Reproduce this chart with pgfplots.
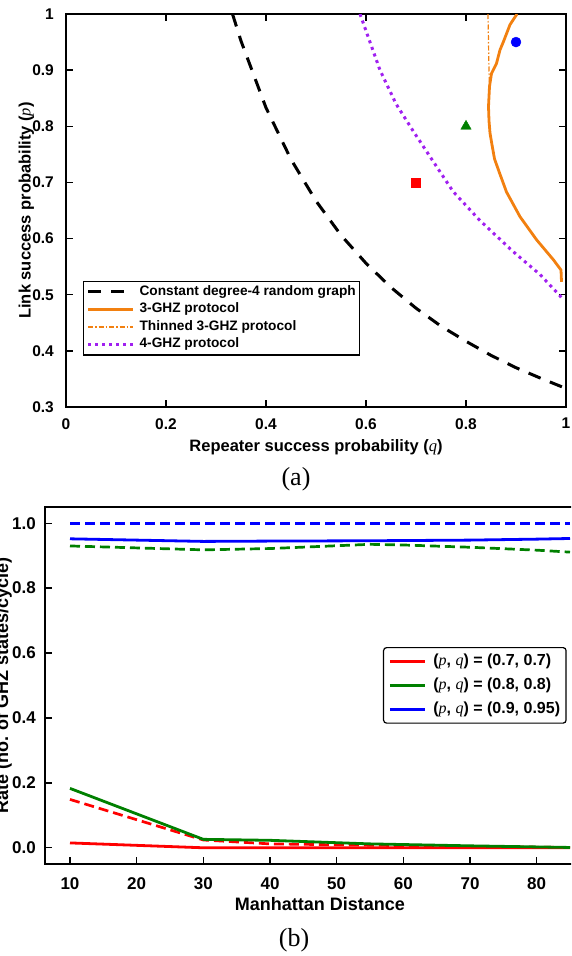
\documentclass[border=0pt]{standalone}
\usepackage{fontspec}
\setmainfont{Liberation Sans}
\newfontfamily\tms{Liberation Serif}
\usepackage{pgfplots}
\pgfplotsset{compat=1.18}
\definecolor{gorange}{RGB}{242,128,16}
\definecolor{gpurple}{RGB}{160,32,240}
\definecolor{gblue}{RGB}{0,0,255}
\definecolor{ggreen}{RGB}{0,128,0}
\definecolor{gred}{RGB}{255,0,0}
\newcommand{\ip}{{\tms\mdseries\itshape p}}
\newcommand{\iq}{{\tms\mdseries\itshape q}}

\begin{document}
\begin{tikzpicture}
\path[use as bounding box] (0pt,0pt) rectangle (571pt,-956pt);
\clip (0pt,0pt) rectangle (571pt,-956pt);

% (a) threshold curves
\begin{axis}[
  at={(66pt,-14pt)}, anchor=north west,
  scale only axis, width=500pt, height=393pt,
  xmin=0, xmax=1, ymin=0.3, ymax=1,
  xtick={0,0.2,0.4,0.6,0.8,1},
  ytick={0.3,0.4,0.5,0.6,0.7,0.8,0.9,1},
  tick align=inside, major tick length=7pt,
  every tick/.style={black, line width=1.4pt},
  axis line style={line width=2pt},
  /pgf/number format/assume math mode=true,
  tick label style={font=\fontsize{15.5}{17}\selectfont\bfseries},
  yticklabel style={inner sep=0pt, xshift=-12pt},
  xticklabel style={inner sep=0pt, yshift=-11pt},
  xlabel={Repeater success probability (\iq)},
  ylabel={Link success probability (\ip)},
  label style={font=\fontsize{16.5}{19}\selectfont\bfseries},
  xlabel style={at={(axis description cs:0.5,-0.112)}, anchor=base},
  ylabel style={at={(axis description cs:-0.071,0.5)}, anchor=base},
  legend style={at={(axis description cs:0.034,0.321)}, anchor=north west,
    draw=black, line width=1.2pt, inner sep=3pt, row sep=2.5pt, column sep=4pt,
    font=\fontsize{13.7}{15}\selectfont\bfseries,
    nodes={inner sep=1pt, text height=10pt, text depth=3pt}},
  legend cell align=left,
  legend image code/.code={\draw[#1] (0pt,0pt) -- (45pt,0pt);},
]
\addplot[black, line width=3pt, dash pattern=on 13pt off 10pt] coordinates {
  (0.333,1.0) (0.35,0.952) (0.4,0.833) (0.45,0.741) (0.5,0.667) (0.55,0.606)
  (0.6,0.556) (0.65,0.513) (0.7,0.476) (0.75,0.444) (0.8,0.417) (0.85,0.392)
  (0.9,0.370) (0.95,0.351) (1.0,0.333)};
\addplot[gorange, line width=2.8pt] coordinates {
  (0.902,1.0) (0.888,0.981) (0.875,0.951) (0.868,0.936) (0.861,0.912) (0.851,0.894)
  (0.847,0.871) (0.845,0.835) (0.846,0.81) (0.848,0.788) (0.851,0.772) (0.857,0.742)
  (0.867,0.717) (0.881,0.683) (0.908,0.639) (0.941,0.598) (0.975,0.562) (0.990,0.544)
  (0.991,0.523)};
\addplot[gorange, line width=1.2pt, dash pattern=on 5pt off 2pt on 1.5pt off 2pt] coordinates {
  (0.844,1.0) (0.845,0.95) (0.846,0.90) (0.847,0.865)};
\addplot[gpurple, line width=3pt, dash pattern=on 3pt off 4pt] coordinates {
  (0.588,1.0) (0.61,0.945) (0.628,0.90) (0.66,0.840) (0.694,0.792) (0.728,0.746)
  (0.774,0.684) (0.828,0.632) (0.894,0.577) (0.948,0.536) (0.988,0.498) (0.995,0.49)};
\legend{Constant degree-4 random graph, 3-GHZ protocol, Thinned 3-GHZ protocol, 4-GHZ protocol}
\addplot[only marks, mark=square*, mark size=4.5pt, gred, forget plot] coordinates {(0.7,0.7)};
\addplot[only marks, mark=triangle*, mark size=6pt, ggreen, forget plot] coordinates {(0.8,0.8)};
\addplot[only marks, mark=*, mark size=5pt, gblue, forget plot] coordinates {(0.9,0.95)};
\end{axis}

\node[font=\tms\fontsize{26}{30}\selectfont] at (296pt,-479pt) {(a)};

% (b) rates
\begin{axis}[
  at={(45pt,-507pt)}, anchor=north west,
  scale only axis, width=550pt, height=357pt,
  xmin=6.25, xmax=88.75, ymin=-0.05, ymax=1.05,
  xtick={10,20,30,40,50,60,70,80},
  ytick={0,0.2,0.4,0.6,0.8,1},
  xtick pos=left, ytick pos=left,
  tick align=inside, major tick length=7pt,
  every tick/.style={black, line width=1.4pt},
  axis line style={line width=2pt},
  /pgf/number format/assume math mode=true,
  tick label style={font=\fontsize{17}{19}\selectfont\bfseries},
  yticklabel style={inner sep=0pt, xshift=-9pt, /pgf/number format/.cd, fixed, fixed zerofill, precision=1},
  xticklabel style={inner sep=0pt, yshift=-13.5pt},
  xlabel={Manhattan Distance},
  ylabel={Rate (no. of GHZ states/cycle)},
  label style={font=\fontsize{18}{21}\selectfont\bfseries},
  xlabel style={at={(axis description cs:0.5,-0.129)}, anchor=base},
  ylabel style={at={(axis description cs:-0.067,0.5)}, anchor=base},
  legend style={at={(axis description cs:0.6145,0.6078)}, anchor=north west,
    draw=black, line width=1.2pt, rounded corners=3pt, inner sep=5pt, row sep=6.5pt, column sep=6pt,
    font=\fontsize{16}{18}\selectfont\bfseries,
    nodes={inner sep=1pt, text height=12pt, text depth=3.5pt}},
  legend cell align=left,
  legend image code/.code={\draw[#1] (0pt,0pt) -- (35pt,0pt);},
]
\addplot[gblue, line width=2.7pt, dash pattern=on 10pt off 5pt, forget plot] coordinates {
  (10,1.0) (30,1.0) (55,1.0) (85,1.0)};
\addplot[ggreen, line width=2.7pt, dash pattern=on 10pt off 5pt, forget plot] coordinates {
  (10,0.930) (30,0.918) (40,0.922) (55,0.935) (60,0.933) (70,0.926) (80,0.917) (85,0.911)};
\addplot[gred, line width=2.7pt, dash pattern=on 10pt off 5pt, forget plot] coordinates {
  (10,0.149) (30,0.024) (40,0.012) (55,0.008) (70,0.004) (85,0.001)};
\addplot[gred, line width=2.8pt] coordinates {
  (10,0.015) (30,0.0) (55,0.0) (85,0.0)};
\addlegendentry{(\ip, \iq) = (0.7, 0.7)}
\addplot[ggreen, line width=2.8pt] coordinates {
  (10,0.183) (30,0.026) (40,0.023) (55,0.012) (70,0.006) (85,0.001)};
\addlegendentry{(\ip, \iq) = (0.8, 0.8)}
\addplot[gblue, line width=2.8pt] coordinates {
  (10,0.952) (30,0.944) (40,0.945) (55,0.946) (70,0.948) (80,0.951) (85,0.953)};
\addlegendentry{(\ip, \iq) = (0.9, 0.95)}
\end{axis}

\node[font=\tms\fontsize{26}{30}\selectfont] at (294pt,-940pt) {(b)};
\end{tikzpicture}
\end{document}
